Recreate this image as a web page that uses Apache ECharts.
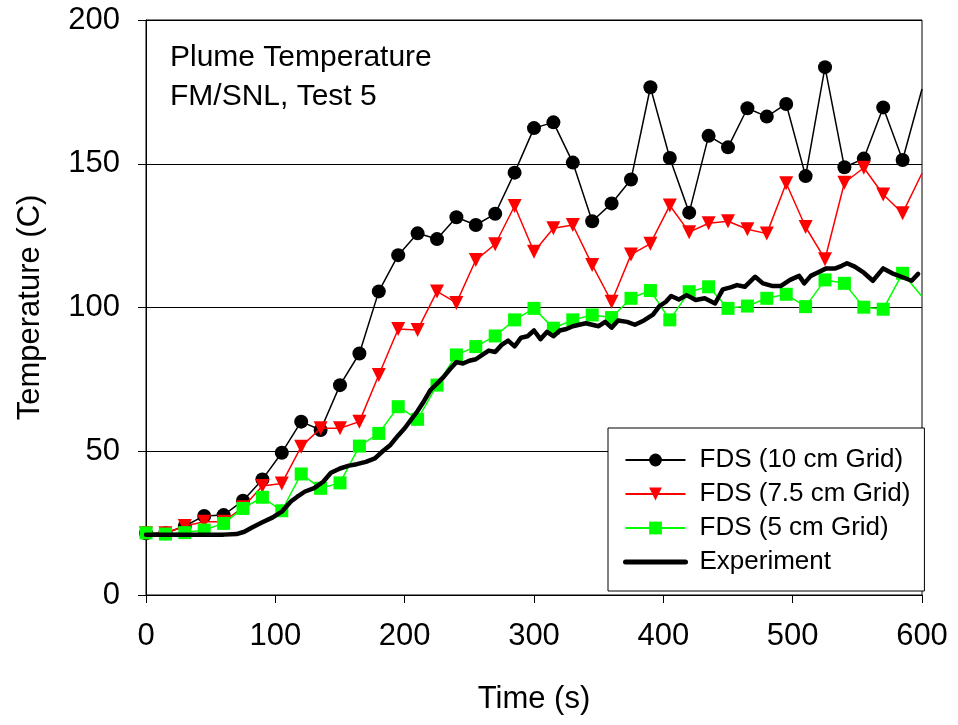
<!DOCTYPE html>
<html>
<head>
<meta charset="utf-8">
<title>Plume Temperature</title>
<script src="https://cdn.jsdelivr.net/npm/echarts@6/dist/echarts.min.js"></script>
<style>
  html, body { margin: 0; padding: 0; background: #fff; }
  #chart { width: 958px; height: 725px; }
</style>
</head>
<body>
<div id="chart"></div>
<script>
// FDS output every 15 s
const fdsTime = [0, 15, 30, 45, 60, 75, 90, 105, 120, 135, 150, 165, 180, 195, 210, 225, 240, 255, 270, 285,
  300, 315, 330, 345, 360, 375, 390, 405, 420, 435, 450, 465, 480, 495, 510, 525, 540, 555, 570, 585, 600];
const fds10 = [21.5, 21.5, 24, 27.5, 27.8, 32.8, 40.2, 49.5, 60.3, 57.4, 73, 84, 105.6, 118.2, 125.8, 123.8, 131.4, 128.7, 132.6, 146.9,
  162.4, 164.4, 150.4, 130, 136.2, 144.5, 176.6, 152, 133, 159.7, 155.7, 169.3, 166.4, 170.8, 145.7, 183.6, 148.8, 151.8, 169.6, 151.3, 176];
const fds75 = [21.5, 21.5, 24, 25.5, 25.5, 30.5, 37.9, 38.8, 51.6, 58, 58, 60.3, 76.5, 92.5, 92.2, 105.6, 101.6, 116.5, 122, 135.3,
  119.4, 127.6, 128.7, 114.8, 102, 118.4, 122.2, 135.5, 126.2, 129.3, 130, 127.2, 125.7, 143.2, 128, 116.8, 143.4, 148.6, 139.3, 132.8, 146.7];
const fds5 = [21.6, 21.2, 21.7, 22.6, 24.9, 30.1, 34, 29.3, 42.1, 37.1, 39, 51.8, 56.2, 65.5, 61.1, 73, 83.5, 86.4, 90.1, 95.7,
  99.7, 92.8, 95.7, 97.4, 96.5, 103.2, 105.9, 95.7, 105.5, 107.2, 99.7, 100.5, 103.2, 104.6, 100.3, 109.6, 108.4, 100.1, 99.4, 111.9, 103.8];

// measured thermocouple
const expTime = [0, 10, 20, 30, 40, 50, 60, 70, 76, 82, 90, 98, 105, 112, 117, 123, 130, 137, 143, 150,
  157, 163, 170, 177, 183, 189, 195, 200, 205, 210, 215, 220, 225, 230, 235, 240, 245, 250, 255, 260,
  265, 270, 275, 280, 285, 290, 295, 300, 305, 310, 315, 320, 325, 330, 335, 340, 345, 350, 355, 360,
  365, 372, 378, 385, 392, 397, 402, 406, 412, 418, 425, 432, 440, 446, 452, 457, 463, 471, 477, 484,
  491, 498, 505, 509, 514, 519, 526, 533, 538, 542, 548, 555, 562, 570, 577, 584, 592, 597];
const expTemp = [21, 21, 21, 21, 21, 21, 21, 21.2, 22, 23.5, 25.3, 27, 29, 32.5, 34.2, 36, 37.2, 39.4, 42.5, 44,
  45, 45.5, 46.3, 47.5, 50, 52.2, 55.5, 58, 61, 64, 67.5, 71.3, 73.5, 75.8, 78.5, 81, 80.5, 81.5, 82, 83.5,
  85, 84.5, 87, 88.5, 86.5, 89.5, 90, 92, 89, 91.5, 90, 92, 92.5, 93.5, 94, 94.5, 94, 93.5, 95, 93,
  95.5, 95, 94, 95.5, 97.5, 100.5, 102, 104, 102.8, 104.3, 102.6, 103.2, 101.4, 106.3, 107, 107.8, 107.2, 110.7, 108.4, 107.5,
  107.5, 109.6, 111, 108.4, 111, 112.1, 113.6, 113.6, 114.5, 115.4, 114.2, 112.1, 109.3, 113.6, 111.9, 110.7, 109.3, 111.7];

const seriesNames = ['FDS (10 cm Grid)', 'FDS (7.5 cm Grid)', 'FDS (5 cm Grid)', 'Experiment'];

// the FDS lines run past the right edge, so no marker on the last point
const toPairs = (xs, ys) => xs.map((x, i) => (x === 600 ? { value: [x, ys[i]], symbol: 'none' } : [x, ys[i]]));

const font = "'Liberation Sans', Arial, sans-serif";
const chart = echarts.init(document.getElementById('chart'));

const option = {
  backgroundColor: '#fff',
  animation: false,
  textStyle: { fontFamily: font, color: '#000' },
  title: {
    text: 'Plume Temperature\nFM/SNL, Test 5',
    left: 165,
    top: 33,
    textStyle: { fontFamily: font, fontSize: 30, fontWeight: 'normal', color: '#000', lineHeight: 39 },
  },
  grid: {
    left: 146,
    right: 36,
    top: 20,
    bottom: 130,
    show: true,
    borderColor: '#000',
    borderWidth: 1,
  },
  legend: {
    orient: 'vertical',
    left: 608,
    top: 428,
    data: [
      seriesNames[0],
      seriesNames[1],
      seriesNames[2],
      { name: seriesNames[3], lineStyle: { width: 5 } }, // thick line like the series
    ],
    backgroundColor: '#fff',
    borderColor: '#000',
    borderWidth: 1,
    borderRadius: 0,
    padding: [19, 14, 16, 15],
    itemWidth: 60,
    itemHeight: 16,
    itemGap: 8,
    selectedMode: false,
    textStyle: { fontFamily: font, fontSize: 26, color: '#000', padding: [0, 0, 0, 9] },
  },
  xAxis: {
    type: 'value',
    min: 0,
    max: 600,
    interval: 100,
    name: 'Time (s)',
    nameLocation: 'middle',
    nameGap: 89,
    nameTextStyle: { fontFamily: font, fontSize: 31, color: '#000' },
    axisLine: { show: true, lineStyle: { color: '#000', width: 1 } },
    axisTick: { show: true, inside: false, length: 8, lineStyle: { color: '#000' } },
    axisLabel: { fontFamily: font, fontSize: 31, color: '#000', margin: 26 },
    splitLine: { show: false },
  },
  yAxis: {
    type: 'value',
    min: 0,
    max: 200,
    interval: 50,
    name: 'Temperature (C)',
    nameLocation: 'middle',
    nameGap: 100,
    nameTextStyle: { fontFamily: font, fontSize: 31, color: '#000' },
    axisLine: { show: true, lineStyle: { color: '#000', width: 1 } },
    axisTick: { show: true, inside: false, length: 8, lineStyle: { color: '#000' } },
    axisLabel: { fontFamily: font, fontSize: 31, color: '#000', margin: 26 },
    splitLine: { show: true, lineStyle: { color: '#000', width: 1 } },
  },
  series: [
    {
      name: seriesNames[0],
      type: 'line',
      data: toPairs(fdsTime, fds10),
      symbol: 'circle',
      symbolSize: 14,
      itemStyle: { color: '#000' },
      lineStyle: { color: '#000', width: 1.5 },
      z: 2,
    },
    {
      name: seriesNames[1],
      type: 'line',
      data: toPairs(fdsTime, fds75),
      symbol: 'triangle',
      symbolRotate: 180,
      symbolSize: 14,
      itemStyle: { color: '#ff0000' },
      lineStyle: { color: '#ff0000', width: 1.5 },
      z: 3,
    },
    {
      name: seriesNames[2],
      type: 'line',
      data: toPairs(fdsTime, fds5),
      symbol: 'rect',
      symbolSize: 13,
      itemStyle: { color: '#00ff00' },
      lineStyle: { color: '#00ff00', width: 1.5 },
      z: 4,
    },
    {
      name: seriesNames[3],
      type: 'line',
      data: expTime.map((t, i) => [t, expTemp[i]]),
      symbol: 'circle',
      showSymbol: false,
      itemStyle: { color: 'rgba(0,0,0,0)' }, // keeps the legend icon a plain line
      lineStyle: { color: '#000', width: 4.5, cap: 'round', join: 'round' },
      z: 5,
    },
  ],
};

chart.setOption(option);
</script>
</body>
</html>
